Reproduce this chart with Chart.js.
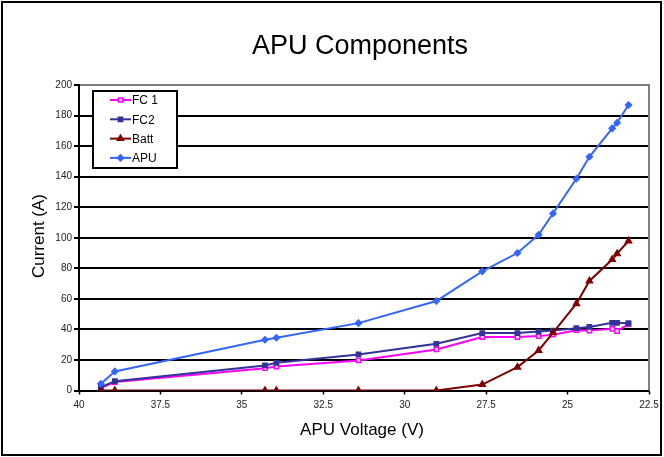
<!DOCTYPE html>
<html>
<head>
<meta charset="utf-8">
<script src="https://cdn.jsdelivr.net/npm/chart.js@4/dist/chart.umd.min.js"></script>
<style>
  html, body { margin: 0; padding: 0; background: #fff; }
  #wrap { width: 664px; height: 457px; }
</style>
</head>
<body>
<div id="wrap"><canvas id="c" width="664" height="457"></canvas></div>
<script>
// APU bus voltage (V) at each measured operating point
const voltage = [39.33, 38.9, 34.29, 33.94, 31.42, 29.03, 27.62, 26.54, 25.89, 25.45, 24.73, 24.33, 23.63, 23.48, 23.13];
// Current (A) delivered by each source
const fc1  = [1.7, 5.5, 14.6, 15.7, 19.7, 26.9, 35.0, 35.0, 35.6, 36.5, 39.5, 39.2, 40.4, 38.9, 43.5];
const fc2  = [2.2, 6.1, 16.4, 18.1, 23.6, 30.6, 37.6, 37.6, 38.6, 39.2, 40.8, 41.6, 44.3, 44.3, 44.1];
const batt = [0, 0, 0, 0, 0, 0, 3.9, 15.3, 26.2, 37.8, 56.8, 71.7, 85.7, 89.6, 97.9];
const apu  = [4.4, 12.5, 33.2, 34.5, 44.1, 58.6, 78.0, 90.0, 101.9, 115.9, 138.6, 153.0, 171.6, 175.3, 186.9];

const seriesNames = ['FC 1', 'FC2', 'Batt', 'APU'];
const xTicks = { min: 22.5, max: 40, step: 2.5 };
const yTicks = { min: 0, max: 200, step: 20 };

const pts = arr => voltage.map((v, i) => ({ x: v, y: arr[i] }));

const FONT = '"Liberation Sans", Arial, sans-serif';

// Frame, titles, right plot edge and the boxed legend
const decor = {
  id: 'decor',
  beforeDraw(chart) {
    const ctx = chart.ctx;
    ctx.save();
    ctx.fillStyle = '#fff';
    ctx.fillRect(0, 0, chart.width, chart.height);
    ctx.restore();
  },
  afterDraw(chart) {
    const ctx = chart.ctx;
    const a = chart.chartArea;
    ctx.save();
    // right edge of the plot
    ctx.strokeStyle = '#808080';
    ctx.lineWidth = 2;
    ctx.beginPath();
    ctx.moveTo(a.right, a.top - 1);
    ctx.lineTo(a.right, a.bottom);
    ctx.stroke();

    // outer frame
    ctx.strokeStyle = '#000';
    ctx.lineWidth = 2;
    ctx.strokeRect(2, 2, 659, 453);

    // chart title
    ctx.fillStyle = '#000';
    ctx.textAlign = 'center';
    ctx.textBaseline = 'alphabetic';
    ctx.font = '27px ' + FONT;
    ctx.fillText('APU Components', 360, 54);

    // axis titles
    ctx.font = '17px ' + FONT;
    ctx.fillText('APU Voltage (V)', 362, 435);
    ctx.save();
    ctx.translate(44, 236);
    ctx.rotate(-Math.PI / 2);
    ctx.fillText('Current (A)', 0, 0);
    ctx.restore();

    // legend box
    const bx = 93, by = 91, bw = 84, bh = 77;
    ctx.fillStyle = '#fff';
    ctx.fillRect(bx, by, bw, bh);
    ctx.strokeStyle = '#000';
    ctx.lineWidth = 2;
    ctx.strokeRect(bx, by, bw, bh);
    ctx.font = '12px ' + FONT;
    ctx.textAlign = 'left';
    ctx.textBaseline = 'middle';
    chart.data.datasets.forEach((ds, i) => {
      const y = 100 + i * 19.3;
      ctx.strokeStyle = ds.borderColor;
      ctx.lineWidth = 2;
      ctx.beginPath();
      ctx.moveTo(110, y);
      ctx.lineTo(131, y);
      ctx.stroke();
      ctx.fillStyle = ds.pointBackgroundColor;
      ctx.strokeStyle = ds.borderColor;
      ctx.lineWidth = ds.pointBorderWidth;
      Chart.helpers.drawPoint(ctx, {
        pointStyle: ds.pointStyle,
        radius: ds.pointRadius,
        borderWidth: ds.pointBorderWidth,
        rotation: 0
      }, 120.5, y);
      ctx.fillStyle = '#000';
      ctx.fillText(ds.label, 132, y + 1);
    });
    ctx.restore();
  }
};

const mk = (label, data, color, fill, style, radius, order) => ({
  label,
  data: pts(data),
  borderColor: color,
  backgroundColor: color,
  pointBackgroundColor: fill,
  pointBorderColor: color,
  pointBorderWidth: 1.5,
  pointStyle: style,
  pointRadius: radius,
  borderWidth: 2,
  tension: 0,
  order
});

new Chart(document.getElementById('c'), {
  type: 'line',
  data: {
    datasets: [
      mk(seriesNames[0], fc1, '#FF00FF', '#FFFFFF', 'rect', 3, 4),
      mk(seriesNames[1], fc2, '#333399', '#333399', 'rect', 3, 3),
      mk(seriesNames[2], batt, '#800000', '#800000', 'triangle', 3.5, 2),
      mk(seriesNames[3], apu, '#3366FF', '#3366FF', 'rectRot', 3, 1)
    ]
  },
  options: {
    responsive: false,
    animation: false,
    devicePixelRatio: 1,
    layout: { padding: { left: 44, right: 15, top: 85, bottom: 41.5 } },
    plugins: {
      legend: { display: false },
      title: { display: false },
      tooltip: { enabled: false }
    },
    scales: {
      x: {
        type: 'linear',
        reverse: true,
        min: xTicks.min,
        max: xTicks.max,
        afterFit: s => { s.height = 25; },
        ticks: {
          stepSize: xTicks.step,
          color: '#222',
          font: { family: FONT, size: 10 },
          padding: 5,
          maxRotation: 0
        },
        grid: {
          drawOnChartArea: false,
          drawTicks: true,
          tickLength: 4,
          tickColor: '#000',
          tickWidth: 1.5
        },
        border: { color: '#000', width: 2 }
      },
      y: {
        min: yTicks.min,
        max: yTicks.max,
        afterFit: s => { s.width = 35; },
        ticks: {
          stepSize: yTicks.step,
          color: '#222',
          font: { family: FONT, size: 10 },
          padding: 2
        },
        grid: {
          color: c => (c.tick && c.tick.value === yTicks.max) ? '#808080' : '#000',
          lineWidth: 2,
          tickLength: 5,
          tickColor: '#000',
          tickWidth: 2
        },
        border: { color: '#000', width: 2 }
      }
    }
  },
  plugins: [decor]
});
</script>
</body>
</html>
